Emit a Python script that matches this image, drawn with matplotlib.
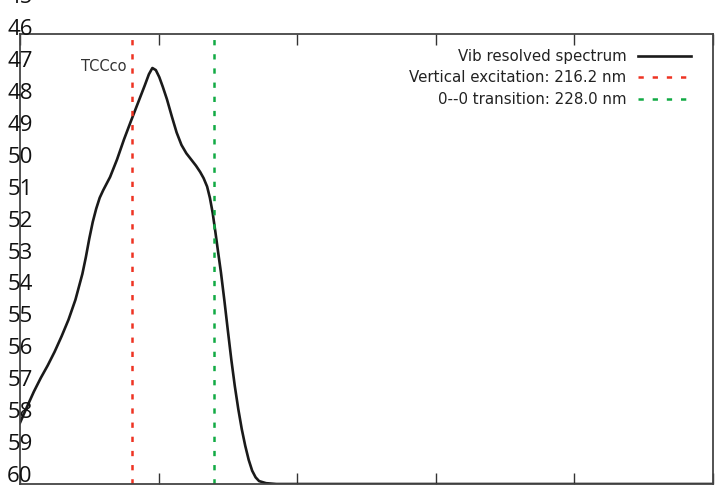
import matplotlib
matplotlib.use("Agg")
from matplotlib import pyplot as plt
from matplotlib.transforms import blended_transform_factory

# spectrum (wavelength nm, normalised intensity)
wavelength = [200.0, 201.0, 202.0, 203.0, 204.0, 205.0, 206.0, 207.0, 208.0,
              209.0, 209.5, 210.0, 210.5, 211.0, 211.5, 212.0, 213.0, 214.0,
              215.0, 216.0, 217.0, 218.0, 218.6, 219.1, 219.6, 220.1, 220.6,
              221.2, 221.9, 222.6, 223.3, 224.0, 224.7, 225.4, 226.0, 226.5,
              227.0, 227.4, 227.8, 228.2, 228.6, 229.0, 229.5, 230.0, 230.5,
              231.0, 231.5, 232.0, 232.5, 233.0, 233.5, 234.0, 234.5, 235.5,
              237.0, 300.0]
intensity = [0.147, 0.185, 0.222, 0.255, 0.285, 0.318, 0.355, 0.395, 0.443,
             0.505, 0.545, 0.590, 0.630, 0.662, 0.688, 0.706, 0.738, 0.780,
             0.828, 0.872, 0.915, 0.958, 0.985, 1.000, 0.995, 0.978, 0.955,
             0.925, 0.884, 0.845, 0.815, 0.795, 0.780, 0.765, 0.750, 0.735,
             0.715, 0.688, 0.652, 0.605, 0.556, 0.508, 0.440, 0.368, 0.298,
             0.235, 0.180, 0.132, 0.092, 0.058, 0.032, 0.016, 0.007, 0.002,
             0.0, 0.0]

vertical_exc = 216.2
zero_zero = 228.0
x_ticks = [200, 220, 240, 260, 280, 300]
left_labels = list(range(45, 61))

plt.rcParams["lines.scale_dashes"] = False

fig = plt.figure(figsize=(7.25, 5), dpi=100)
ax = fig.add_axes([20 / 725, 16 / 500, 693 / 725, 450 / 500])

ax.plot(wavelength, intensity, color="#1a1a1a", lw=1.9,
        solid_joinstyle="round", label="Vib resolved spectrum")
ax.axvline(vertical_exc, color="#ee3322", lw=1.8, dashes=(3.8, 6.4),
           label="Vertical excitation: %.1f nm" % vertical_exc)
ax.axvline(zero_zero, color="#11aa44", lw=1.8, dashes=(3.8, 6.4),
           label="0--0 transition: %.1f nm" % zero_zero)

ax.set_xlim(200, 300)
ax.set_ylim(0, 450 / 416)
ax.set_xticks(x_ticks)
ax.set_xticklabels([])
ax.set_yticks([])
ax.tick_params(axis="x", direction="in", length=8, width=1, color="#333333",
               top=True, bottom=True)
for s in ax.spines.values():
    s.set_color("#444444")
    s.set_linewidth(1.3)

ax.text(0.153, 0.927, "TCCco", transform=ax.transAxes, ha="right",
        va="center", fontsize=10.5, color="#333333")

leg = ax.legend(loc="upper right", bbox_to_anchor=(1 - 5 / 693, 1 + 2.5 / 450),
                frameon=False, markerfirst=False,
                fontsize=10.8, handlelength=3.5, handletextpad=0.8,
                labelspacing=0.45, borderaxespad=0.75)
for t in leg.get_texts():
    t.set_color("#222222")

# the stray 45..60 labels along the left spine
lab = ax.twinx()
lab.set_ylim(60.315, 46.213)
lab.set_yticks([])
lab.axis("off")
tr = blended_transform_factory(lab.transAxes, lab.transData)
for v in left_labels:
    lab.text(0.0, v, str(v), transform=tr, ha="center", va="center_baseline",
             fontsize=16, family="Open Sans", color="#111111", clip_on=False)

fig.savefig("out.png", dpi=100)
